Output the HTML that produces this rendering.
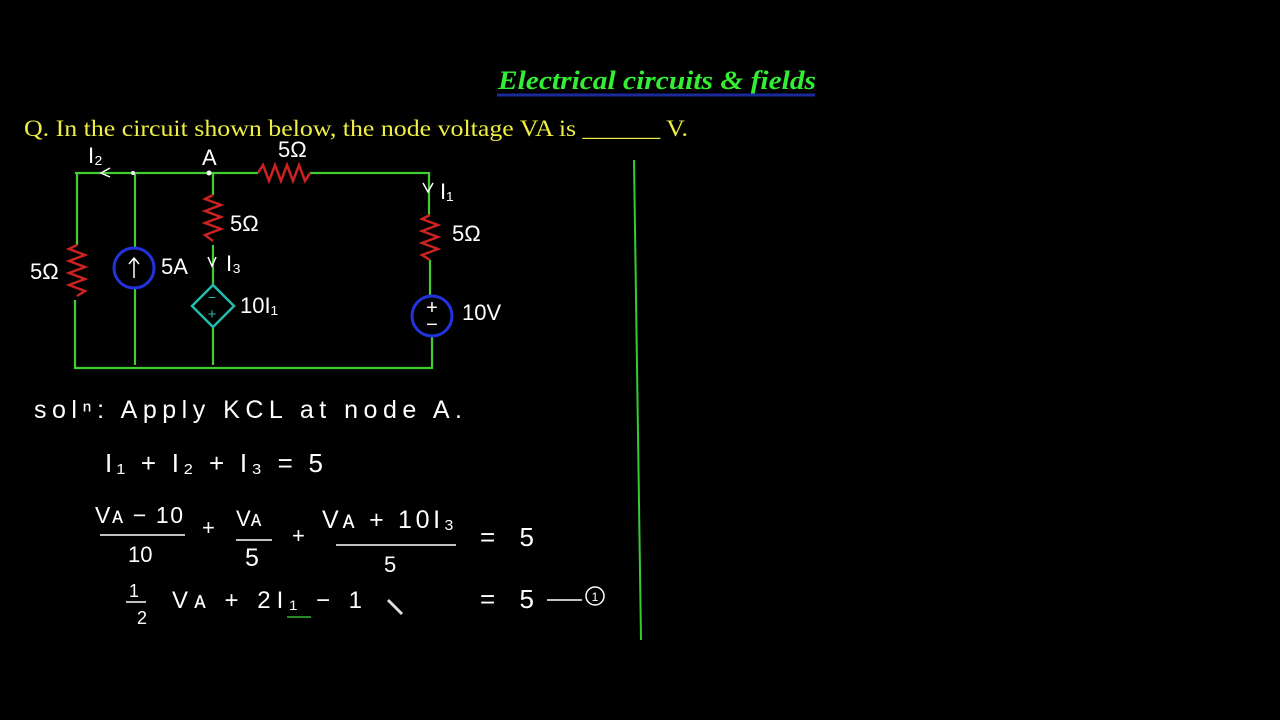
<!DOCTYPE html>
<html><head><style>
body{margin:0;background:#000;}
svg{display:block}
.h{font-family:"Liberation Sans",sans-serif;fill:#fff;}
</style></head><body>
<svg width="1280" height="720" viewBox="0 0 1280 720" xmlns="http://www.w3.org/2000/svg" font-size="22">
<rect width="1280" height="720" fill="#000"/>
<text x="498" y="89" textLength="318" lengthAdjust="spacingAndGlyphs" font-family="Liberation Serif,serif" font-weight="bold" font-style="italic" font-size="26" fill="#33ee33">Electrical circuits &amp; fields</text>
<line x1="497" y1="95" x2="815" y2="95" stroke="#1a2a9a" stroke-width="3"/>
<text x="24" y="136" textLength="664" lengthAdjust="spacingAndGlyphs" font-family="Liberation Serif,serif" font-size="23" fill="#eeee44">Q. In the circuit shown below, the node voltage VA is ______ V.</text>
<line x1="634" y1="160" x2="641" y2="640" stroke="#3c3" stroke-width="2"/>
<g stroke="#44cc33" stroke-width="2.2" fill="none">
<path d="M75 173 H258 M310 173 H429 V215 M430 260 V296 M432 336 V368 H75 V300 M77 245 V173 M135 173 V248 M135 288 V365 M213 173 V195 M213 245 V285 M213 327 V365"/>
</g>
<g stroke="#cc2222" stroke-width="2.5" fill="none">
<path d="M258 173 l5 -8 l6 16 l6 -16 l6 16 l6 -16 l6 16 l6 -16 l6 16 l5 -8"/>
<path d="M77 245 l-8 4 l16 6 l-16 6 l16 6 l-16 6 l16 6 l-16 6 l16 6 l-8 5"/>
<path d="M213 195 l-8 4 l16 6 l-16 6 l16 6 l-16 6 l16 6 l-16 6 l8 6"/>
<path d="M430 215 l-8 4 l16 6 l-16 6 l16 6 l-16 6 l16 6 l-16 6 l8 5"/>
</g>
<circle cx="134" cy="268" r="20" stroke="#2233dd" stroke-width="3" fill="none"/>
<path d="M134 278 V258 M129 264 L134 258 L139 264" stroke="#fff" stroke-width="1.5" fill="none"/>
<circle cx="432" cy="316" r="20" stroke="#2233dd" stroke-width="3" fill="none"/>
<text x="432" y="314" text-anchor="middle" class="h" font-size="20">+</text>
<text x="432" y="331" text-anchor="middle" class="h" font-size="20">−</text>
<path d="M213 285 L234 306 L213 327 L192 306 Z" stroke="#22bbaa" stroke-width="2.5" fill="none"/>
<text x="212" y="302" text-anchor="middle" fill="#22bbaa" font-family="Liberation Sans,sans-serif" font-size="14">−</text>
<text x="212" y="319" text-anchor="middle" fill="#22bbaa" font-family="Liberation Sans,sans-serif" font-size="15">+</text>
<circle cx="133" cy="173" r="2" fill="#fff"/><circle cx="209" cy="173" r="2.5" fill="#fff"/>
<path d="M110 168 L101 173 L110 177 M208 257 L212 266 L216 257 M423 183 L428 192 L433 183" stroke="#fff" stroke-width="1.5" fill="none"/>
<text x="88" y="163" class="h">I₂</text>
<text x="202" y="165" class="h">A</text>
<text x="278" y="157" class="h">5Ω</text>
<text x="440" y="199" class="h">I₁</text>
<text x="452" y="241" class="h">5Ω</text>
<text x="230" y="231" class="h">5Ω</text>
<text x="30" y="279" class="h">5Ω</text>
<text x="161" y="274" class="h">5A</text>
<text x="226" y="271" class="h">I₃</text>
<text x="240" y="313" class="h">10I₁</text>
<text x="462" y="320" class="h">10V</text>
<text x="34" y="418" class="h" font-size="25" textLength="428" lengthAdjust="spacing">solⁿ:  Apply  KCL  at  node  A.</text>
<text x="105" y="472" class="h" font-size="26" textLength="218" lengthAdjust="spacing">I₁ + I₂ + I₃ = 5</text>
<text x="95" y="523" class="h" font-size="23" textLength="88" lengthAdjust="spacing">Vᴀ − 10</text>
<line x1="100" y1="535" x2="185" y2="535" stroke="#fff" stroke-width="1.5"/>
<text x="128" y="562" class="h">10</text>
<text x="202" y="535" class="h">+</text>
<text x="236" y="526" class="h">Vᴀ</text>
<line x1="236" y1="540" x2="272" y2="540" stroke="#fff" stroke-width="1.5"/>
<text x="245" y="566" class="h" font-size="25">5</text>
<text x="292" y="543" class="h">+</text>
<text x="322" y="528" class="h" font-size="25" textLength="132" lengthAdjust="spacing">Vᴀ + 10I₃</text>
<line x1="336" y1="545" x2="456" y2="545" stroke="#fff" stroke-width="1.5"/>
<text x="384" y="572" class="h">5</text>
<text x="480" y="546" class="h" font-size="26" textLength="54" lengthAdjust="spacing">= 5</text>
<text x="129" y="597" class="h" font-size="18">1</text>
<line x1="126" y1="602" x2="146" y2="602" stroke="#fff" stroke-width="1.5"/>
<text x="137" y="624" class="h" font-size="18">2</text>
<text x="172" y="608" class="h" font-size="24" textLength="190" lengthAdjust="spacing">Vᴀ  +  2I₁ − 1</text>
<line x1="287" y1="617" x2="311" y2="617" stroke="#2a8a2a" stroke-width="2"/>
<line x1="388" y1="600" x2="402" y2="614" stroke="#ddd" stroke-width="3"/>
<text x="480" y="608" class="h" font-size="26" textLength="54" lengthAdjust="spacing">= 5</text>
<line x1="547" y1="600" x2="582" y2="600" stroke="#fff" stroke-width="1.5"/>
<circle cx="595" cy="596" r="9" stroke="#fff" stroke-width="1.5" fill="none"/>
<text x="595" y="601" text-anchor="middle" class="h" font-size="12">1</text>
</svg>
</body></html>
